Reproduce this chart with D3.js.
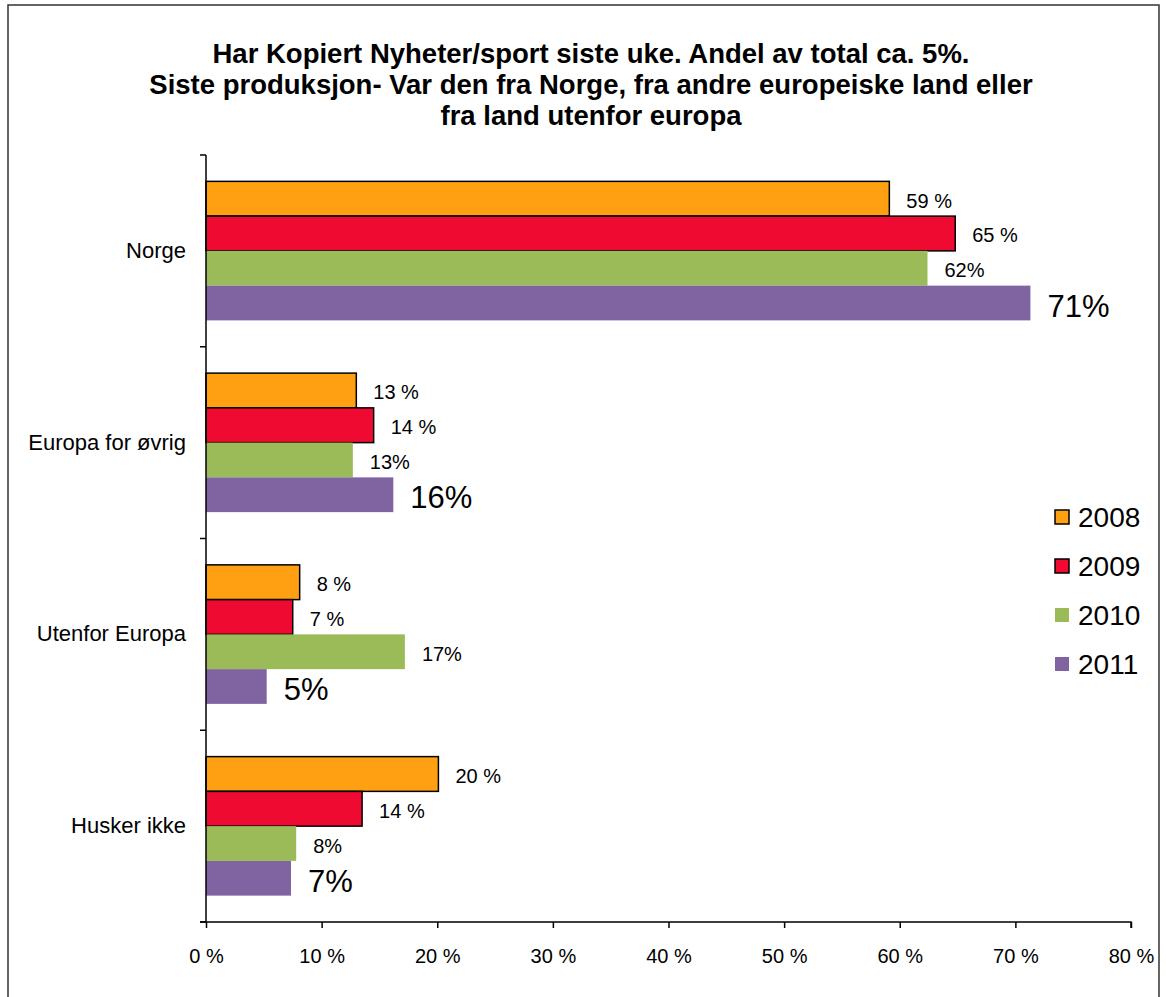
<!DOCTYPE html>
<html>
<head>
<meta charset="utf-8">
<script src="https://cdn.jsdelivr.net/npm/d3@7"></script>
<style>
	body { margin: 0; background: #fff; }
	svg { display: block; font-family: Arial, "Liberation Sans", sans-serif; }
</style>
</head>
<body>
<div id="chart"></div>
<script>
// chart data
let titleLines = ["Har Kopiert Nyheter/sport siste uke. Andel av total ca. 5%.",
	"Siste produksjon- Var den fra Norge, fra andre europeiske land eller",
	"fra land utenfor europa"]
let categories = ["Norge", "Europa for øvrig", "Utenfor Europa", "Husker ikke"]
let years = ["2008", "2009", "2010", "2011"]
let v2008 = [59.1, 13.0, 8.1, 20.1]
let v2009 = [64.8, 14.5, 7.5, 13.5]
let v2010 = [62.4, 12.7, 17.2, 7.8]
let v2011 = [71.3, 16.2, 5.25, 7.35]
let labels2008 = ["59 %", "13 %", "8 %", "20 %"]
let labels2009 = ["65 %", "14 %", "7 %", "14 %"]
let labels2010 = ["62%", "13%", "17%", "8%"]
let labels2011 = ["71%", "16%", "5%", "7%"]
let xTicks = [0, 10, 20, 30, 40, 50, 60, 70, 80]

let colors = {"2008": "#FFA013", "2009": "#EE0A30", "2010": "#9BBB59", "2011": "#8064A2"}
let stroked = {"2008": true, "2009": true, "2010": false, "2011": false}
let labelSize = {"2008": 20, "2009": 20, "2010": 20, "2011": 31}

let series = [
	{year: "2008", values: v2008, labels: labels2008},
	{year: "2009", values: v2009, labels: labels2009},
	{year: "2010", values: v2010, labels: labels2010},
	{year: "2011", values: v2011, labels: labels2011}
]

let W = 1166, H = 997
let plot = {left: 206, right: 1131, top: 155, bottom: 922}

let svg = d3.select("#chart").append("svg")
	.attr("width", W)
	.attr("height", H)

// outer frame
svg.append("path")
	.attr("d", `M8,${H + 5} L8,5 L1159,5 L1159,${H + 5}`)
	.attr("fill", "none")
	.attr("stroke", "#333")
	.attr("stroke-width", 1.5)

svg.append("g").selectAll("text")
	.data(titleLines)
	.enter().append("text")
	.attr("x", 591)
	.attr("y", (d, i) => 63 + i * 31)
	.attr("text-anchor", "middle")
	.attr("font-size", 27.5)
	.attr("font-weight", "bold")
	.text(d => d)

let xScale = d3.scaleLinear().domain([0, 80]).range([plot.left, plot.right])
let yScale = d3.scaleBand().domain(categories).range([plot.top, plot.bottom])
	.paddingInner(0.275).paddingOuter(0.1375)
let yInner = d3.scaleBand().domain(years).range([0, yScale.bandwidth()])

// bars
let groups = svg.append("g").selectAll("g.series")
	.data(series)
	.enter().append("g")
	.classed("series", true)

groups.selectAll("rect")
	.data(s => s.values.map((v, i) => ({year: s.year, cat: categories[i], v: v})))
	.enter().append("rect")
	.attr("x", xScale(0))
	.attr("y", d => yScale(d.cat) + yInner(d.year))
	.attr("width", d => xScale(d.v) - xScale(0))
	.attr("height", yInner.bandwidth())
	.attr("fill", d => colors[d.year])
	.attr("stroke", d => stroked[d.year] ? "#000" : "none")
	.attr("stroke-width", 1.5)

groups.selectAll("text")
	.data(s => s.values.map((v, i) => ({year: s.year, cat: categories[i], v: v, label: s.labels[i]})))
	.enter().append("text")
	.attr("x", d => xScale(d.v) + 17)
	.attr("y", d => yScale(d.cat) + yInner(d.year) + yInner.bandwidth() / 2 + (d.year == "2011" ? 3 : 2))
	.attr("dominant-baseline", "central")
	.attr("font-size", d => labelSize[d.year])
	.text(d => d.label)

// axes
let xAxis = d3.axisBottom(xScale).tickValues(xTicks).tickSize(6).tickFormat(d => d + " %")
let yAxis = d3.axisLeft(yScale).tickSize(0).tickPadding(20)

let gx = svg.append("g")
	.attr("transform", "translate(0," + plot.bottom + ")")
	.call(xAxis)
gx.select(".domain").attr("stroke", "#000").attr("stroke-width", 1.5).attr("d", `M${plot.left - 6},0H${plot.right}V6`)
gx.selectAll(".tick line").attr("stroke", "#000").attr("stroke-width", 1.5)
gx.selectAll(".tick text").attr("font-size", 20).attr("font-family", null).attr("fill", "#000").attr("dy", "1.6em")

let gy = svg.append("g")
	.attr("transform", "translate(" + plot.left + ",0)")
	.call(yAxis)
gy.select(".domain").remove()
gy.selectAll(".tick text").attr("font-size", 22).attr("font-family", null).attr("fill", "#000")

// y axis line and boundary ticks between categories
let yBounds = d3.range(categories.length + 1).map(i => plot.top + i * yScale.step())
svg.append("line")
	.attr("x1", plot.left).attr("x2", plot.left)
	.attr("y1", plot.top).attr("y2", plot.bottom)
	.attr("stroke", "#000").attr("stroke-width", 1.5)
svg.append("g").selectAll("line")
	.data(yBounds)
	.enter().append("line")
	.attr("x1", plot.left - 6).attr("x2", plot.left)
	.attr("y1", d => d).attr("y2", d => d)
	.attr("stroke", "#000").attr("stroke-width", 1.5)

// legend
let legend = svg.append("g").selectAll("g")
	.data(years)
	.enter().append("g")
	.attr("transform", (d, i) => `translate(1055,${517 + i * 49})`)
legend.append("rect")
	.attr("x", 0).attr("y", -7)
	.attr("width", 14).attr("height", 14)
	.attr("fill", d => colors[d])
	.attr("stroke", d => stroked[d] ? "#000" : "none")
	.attr("stroke-width", 1.5)
legend.append("text")
	.attr("x", 23)
	.attr("y", 0)
	.attr("dominant-baseline", "central")
	.attr("font-size", 28)
	.text(d => d)
</script>
</body>
</html>
